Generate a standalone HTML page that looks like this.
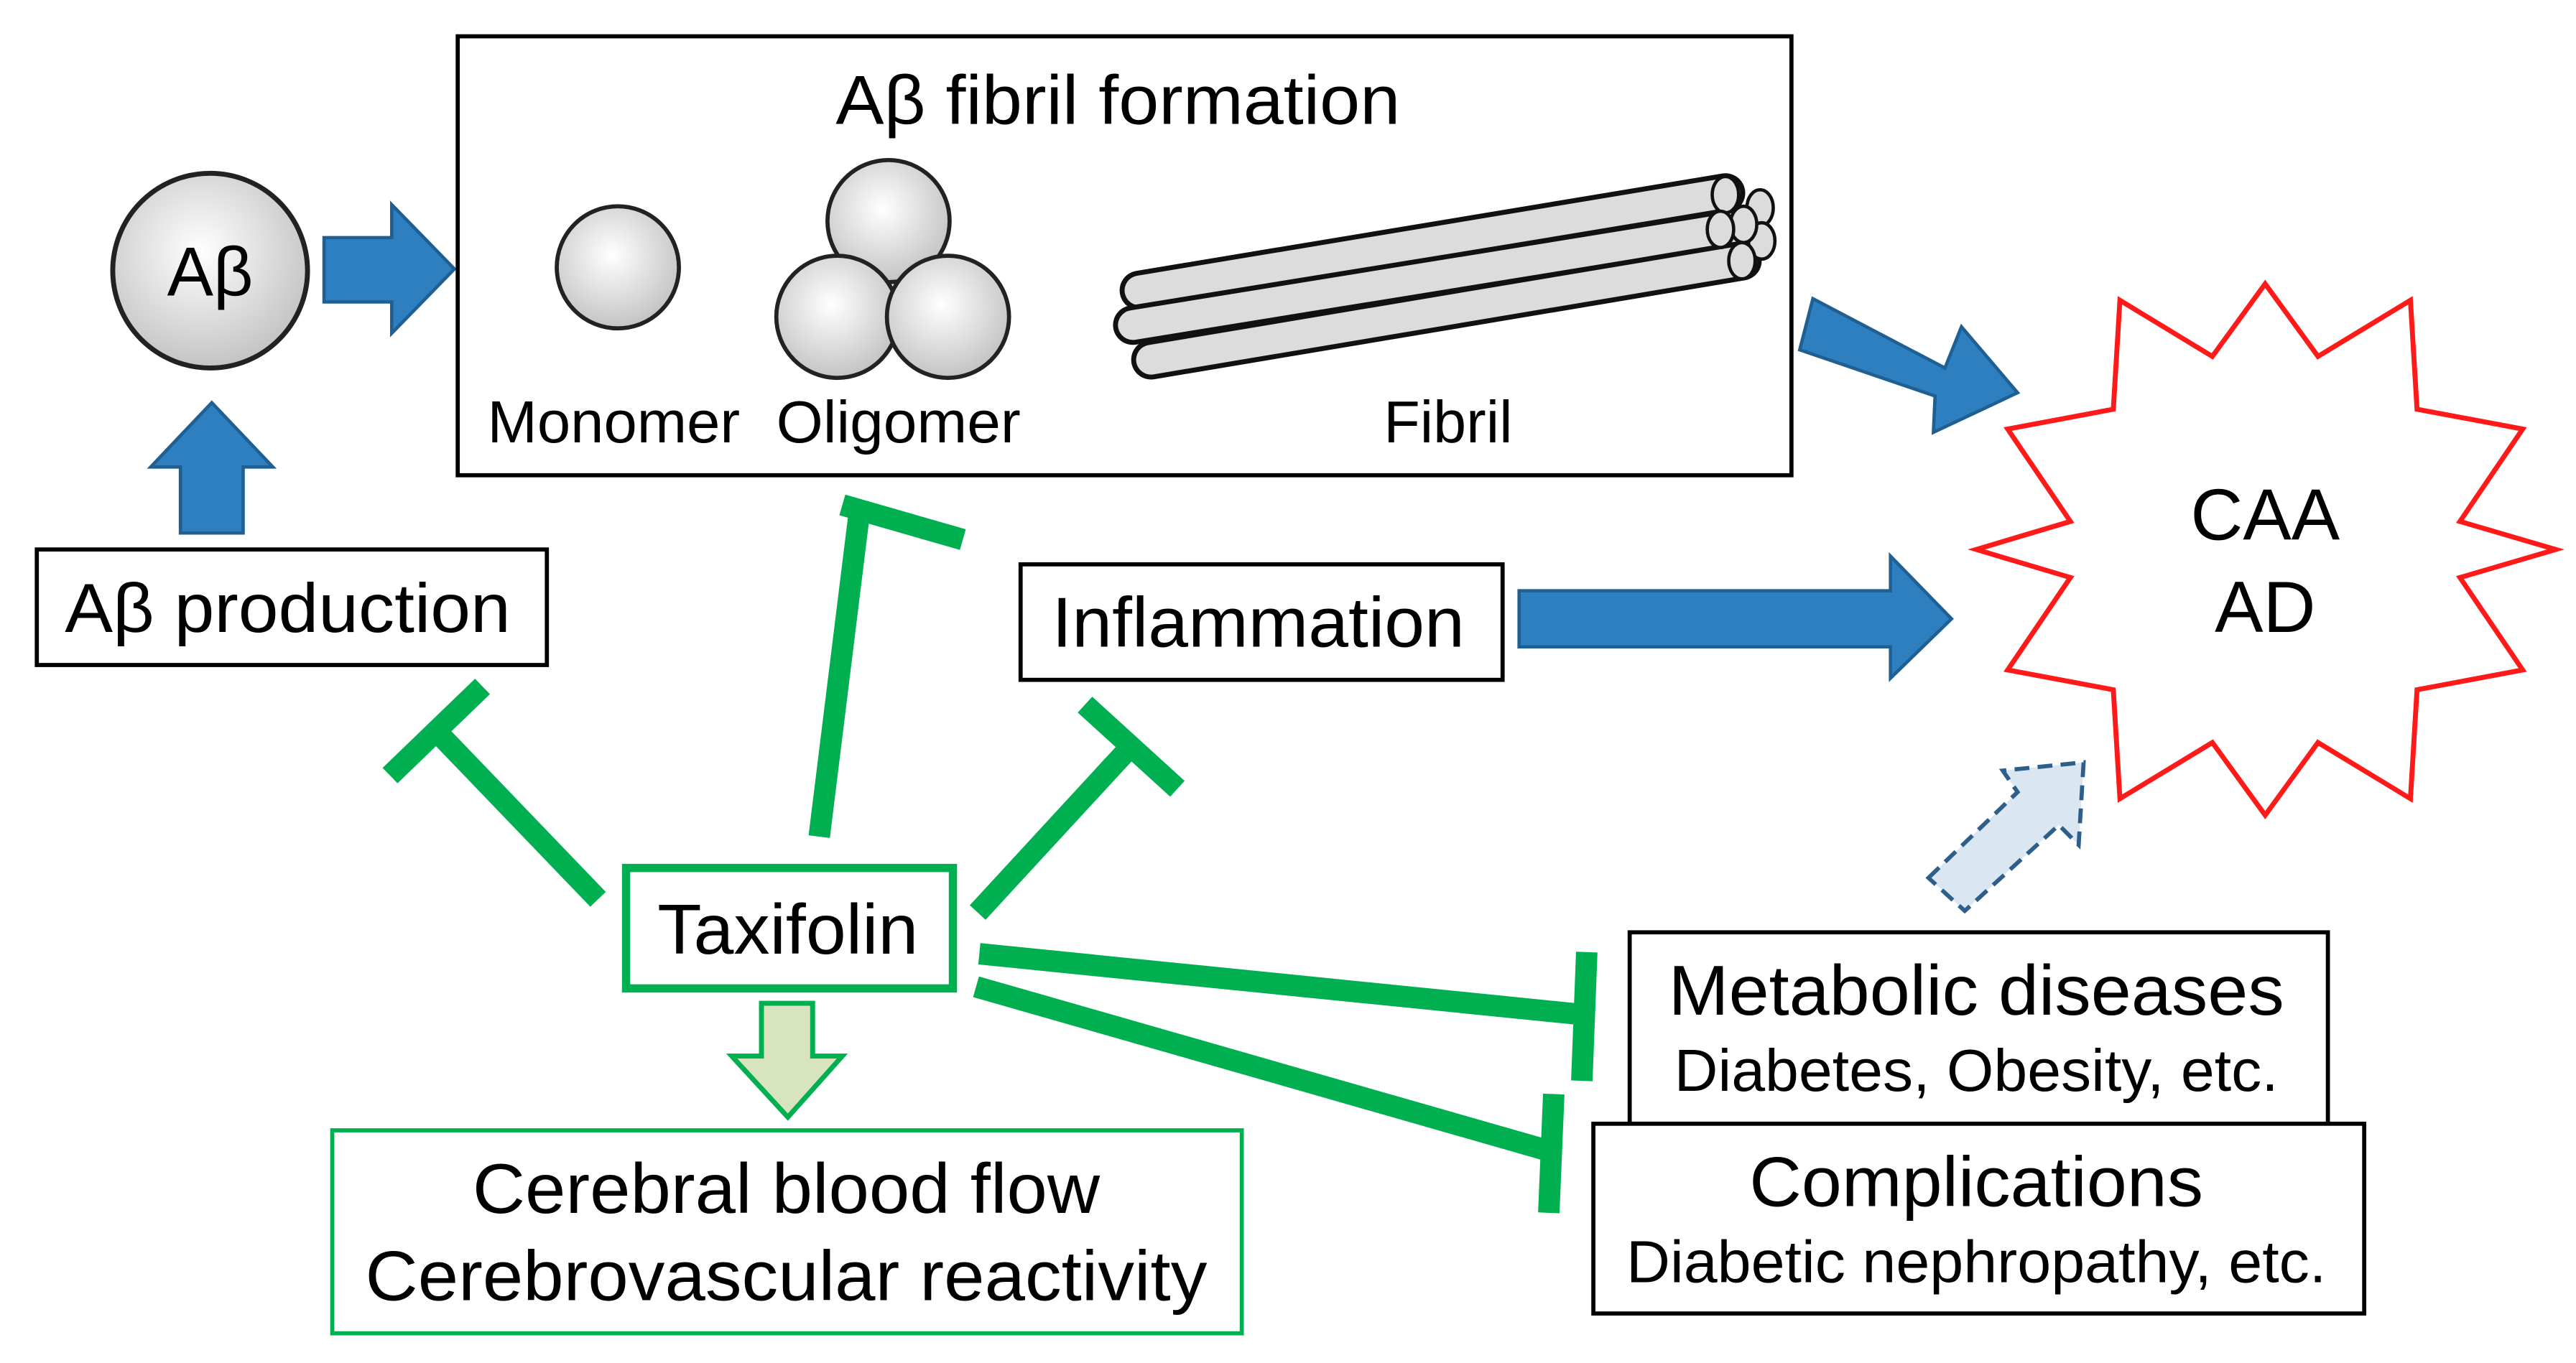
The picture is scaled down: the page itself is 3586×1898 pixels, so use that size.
<!DOCTYPE html>
<html><head><meta charset="utf-8"><style>
html,body{margin:0;padding:0;background:#fff;}
svg{display:block;}
text{font-family:"Liberation Sans",Arial,sans-serif;fill:#000;}
</style></head><body>
<svg width="3586" height="1898" viewBox="0 0 1560 826" xmlns="http://www.w3.org/2000/svg">
<defs>
<radialGradient id="g" cx="0.45" cy="0.4" r="0.6">
<stop offset="0" stop-color="#ffffff"/><stop offset="1" stop-color="#c4c4c4"/>
</radialGradient>
</defs>
<rect width="1560" height="826" fill="#fff"/>

<!-- A beta circle -->
<circle cx="127" cy="164" r="59" fill="url(#g)" stroke="#222" stroke-width="3"/>
<text x="127" y="179" font-size="42" text-anchor="middle">Aβ</text>

<!-- blue arrows -->
<g fill="#2e7fc0" stroke="#1f5f91" stroke-width="2">
<polygon points="196,144 237,144 237,124 275,163 237,202 237,183 196,183"/>
<polygon points="109,323 109,283 91,283 128,244 165,283 147,283 147,323"/>
<polygon points="421,150 448,150 448,134 468,162 448,190 448,175 421,175"/>
<polygon points="622,150 649,150 649,134 668,162 649,190 649,175 622,175"/>
<polygon points="920,358 1145,358 1145,337 1182,375 1145,411 1145,392 920,392"/>
<polygon points="1098,181 1178,223 1188,198 1222,238 1171,262 1172,240 1090,212"/>
</g>

<!-- A beta production -->
<rect x="22" y="333" width="309" height="70" fill="#fff" stroke="#000" stroke-width="2.5"/>
<text x="174" y="383" font-size="42" text-anchor="middle" textLength="270" lengthAdjust="spacingAndGlyphs">Aβ production</text>

<!-- fibril box -->
<rect x="277" y="22" width="808" height="266" fill="#fff" stroke="#000" stroke-width="2.5"/>
<text x="677" y="75" font-size="42" text-anchor="middle" textLength="342" lengthAdjust="spacingAndGlyphs">Aβ fibril formation</text>
<circle cx="374" cy="162" r="37" fill="url(#g)" stroke="#222" stroke-width="2.5"/>
<circle cx="538" cy="134" r="37" fill="url(#g)" stroke="#222" stroke-width="2.5"/>
<circle cx="507" cy="192" r="37" fill="url(#g)" stroke="#222" stroke-width="2.5"/>
<circle cx="574" cy="192" r="37" fill="url(#g)" stroke="#222" stroke-width="2.5"/>
<!-- fibril tubes -->
<g stroke-linecap="round">
<line x1="690" y1="176" x2="1045" y2="117" stroke="#111" stroke-width="24"/>
<line x1="690" y1="176" x2="1045" y2="117" stroke="#dcdcdc" stroke-width="18"/>
<line x1="686" y1="197" x2="1050" y2="138" stroke="#111" stroke-width="24"/>
<line x1="686" y1="197" x2="1050" y2="138" stroke="#dcdcdc" stroke-width="18"/>
<line x1="697" y1="218" x2="1055" y2="158" stroke="#111" stroke-width="24"/>
<line x1="697" y1="218" x2="1055" y2="158" stroke="#dcdcdc" stroke-width="18"/>
</g>
<g fill="#dcdcdc" stroke="#111" stroke-width="2">
<ellipse cx="1066" cy="126" rx="8" ry="11"/>
<ellipse cx="1067" cy="146" rx="8" ry="11"/>
<ellipse cx="1045" cy="118" rx="8" ry="11"/>
<ellipse cx="1056" cy="136" rx="8" ry="11"/>
<ellipse cx="1042" cy="139" rx="8" ry="11"/>
<ellipse cx="1055" cy="158" rx="8" ry="11"/>
</g>
<text x="295" y="268" font-size="36" textLength="153" lengthAdjust="spacingAndGlyphs">Monomer</text>
<text x="470" y="268" font-size="36" textLength="148" lengthAdjust="spacingAndGlyphs">Oligomer</text>
<text x="877" y="268" font-size="36" text-anchor="middle">Fibril</text>

<!-- Inflammation -->
<rect x="618" y="342" width="292" height="70" fill="#fff" stroke="#000" stroke-width="2.5"/>
<text x="762" y="392" font-size="43" text-anchor="middle" textLength="250" lengthAdjust="spacingAndGlyphs">Inflammation</text>

<!-- star -->
<polygon fill="#fff" stroke="#ff1a1a" stroke-width="3" points="1372,172 1404,216 1460,182 1464,248 1528,260 1490,316 1548,333 1490,350 1528,406 1464,418 1460,484 1404,450 1372,494 1340,450 1284,484 1280,418 1216,406 1254,350 1197,333 1254,316 1216,260 1280,248 1284,182 1340,216"/>
<text x="1372" y="327" font-size="44" text-anchor="middle">CAA</text>
<text x="1372" y="383" font-size="44" text-anchor="middle">AD</text>

<!-- dashed arrow -->
<polygon fill="#dae7f3" stroke="#2e5f8a" stroke-width="2.5" stroke-dasharray="9,5" points="1168,532 1222,480 1213,467 1262,462 1259,512 1247,500 1190,552"/>

<!-- Taxifolin -->
<rect x="379" y="526" width="198" height="73" fill="#fff" stroke="#00b050" stroke-width="5"/>
<text x="477" y="578" font-size="43" text-anchor="middle" textLength="158" lengthAdjust="spacingAndGlyphs">Taxifolin</text>

<!-- inhibition -->
<g stroke="#00b050" stroke-width="13" fill="none">
<line x1="362" y1="545" x2="264" y2="443"/>
<line x1="236" y1="470" x2="292" y2="416"/>
<line x1="496" y1="507" x2="520" y2="313"/>
<line x1="510" y1="306" x2="583" y2="327"/>
<line x1="592" y1="553" x2="686" y2="451"/>
<line x1="657" y1="427" x2="713" y2="478"/>
<line x1="593" y1="578" x2="960" y2="615"/>
<line x1="961" y1="577" x2="958" y2="655"/>
<line x1="591" y1="598" x2="940" y2="698"/>
<line x1="941" y1="663" x2="938" y2="735"/>
</g>

<!-- green down arrow -->
<polygon fill="#d7e4bd" stroke="#00b050" stroke-width="3" points="461,608 492,608 492,640 510,640 477,677 443,640 461,640"/>

<!-- cerebral box -->
<rect x="201" y="685" width="551" height="123" fill="#fff" stroke="#00b050" stroke-width="2.5"/>
<text x="476" y="735" font-size="43" text-anchor="middle" textLength="380" lengthAdjust="spacingAndGlyphs">Cerebral blood flow</text>
<text x="476" y="788" font-size="43" text-anchor="middle" textLength="510" lengthAdjust="spacingAndGlyphs">Cerebrovascular reactivity</text>

<!-- metabolic -->
<rect x="987" y="565" width="423" height="116" fill="#fff" stroke="#000" stroke-width="2.5"/>
<text x="1197" y="615" font-size="43" text-anchor="middle" textLength="373" lengthAdjust="spacingAndGlyphs">Metabolic diseases</text>
<text x="1197" y="661" font-size="36" text-anchor="middle" textLength="366" lengthAdjust="spacingAndGlyphs">Diabetes, Obesity, etc.</text>

<!-- complications -->
<rect x="965" y="681" width="467" height="115" fill="#fff" stroke="#000" stroke-width="2.5"/>
<text x="1197" y="731" font-size="43" text-anchor="middle" textLength="275" lengthAdjust="spacingAndGlyphs">Complications</text>
<text x="1197" y="777" font-size="36" text-anchor="middle" textLength="424" lengthAdjust="spacingAndGlyphs">Diabetic nephropathy, etc.</text>
</svg>
</body></html>
